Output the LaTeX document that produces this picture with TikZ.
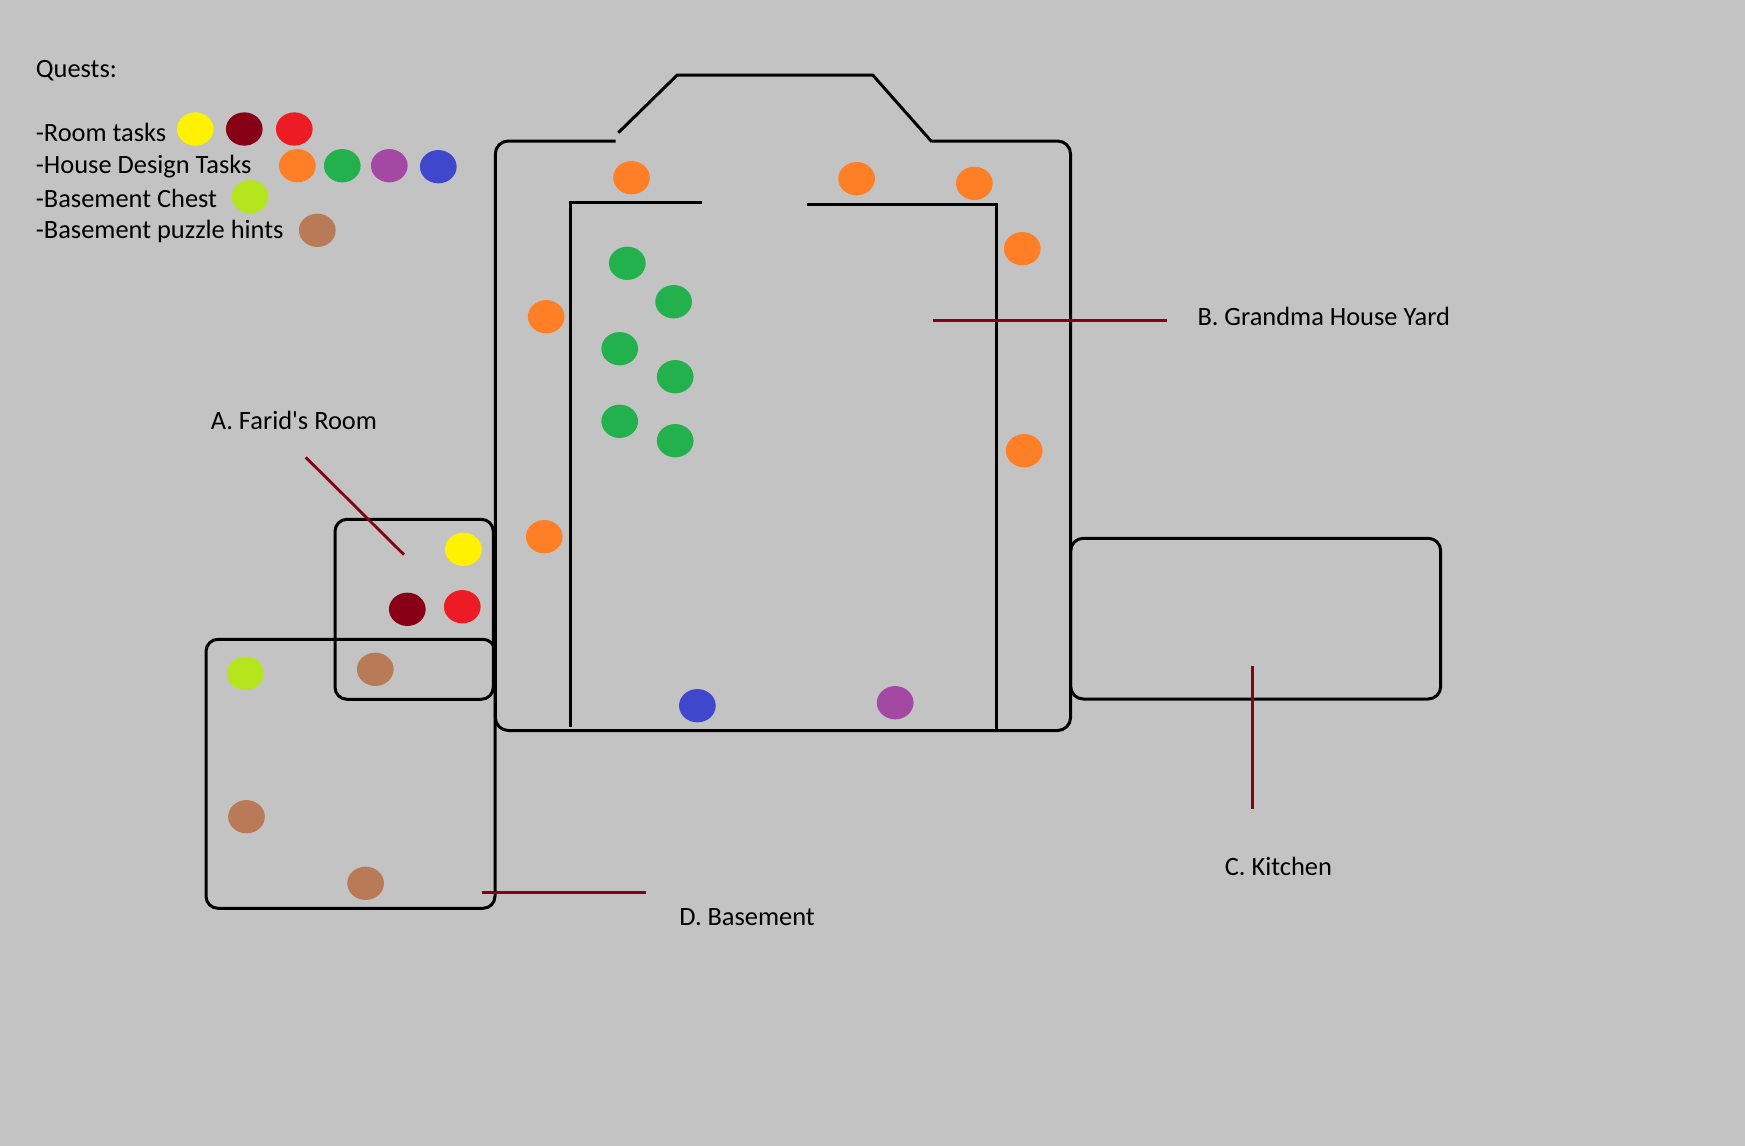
\documentclass[tikz,border=0pt]{standalone}
\usepackage{fontspec}
\defaultfontfeatures{}
\setmainfont{Carlito}[Ligatures=TeXOff]
\usetikzlibrary{shapes.geometric}
\definecolor{bg}{HTML}{C3C3C3}
\definecolor{cyellow}{HTML}{FFF200}
\definecolor{cdarkred}{HTML}{880015}
\definecolor{cred}{HTML}{ED1C24}
\definecolor{corange}{HTML}{FF7F27}
\definecolor{cgreen}{HTML}{22B14C}
\definecolor{cpurple}{HTML}{A349A4}
\definecolor{cblue}{HTML}{3F48CC}
\definecolor{clime}{HTML}{B5E61D}
\definecolor{cbrown}{HTML}{B97A57}
\begin{document}
\begin{tikzpicture}[x=1pt,y=-1pt,
  dot/.style={ellipse,draw=none,inner sep=0pt,minimum width=36.7pt,minimum height=33.3pt},
  wall/.style={draw=black,line width=3pt},
  room/.style={draw=black,line width=3pt,rounded corners=13pt},
  leader/.style={draw=cdarkred,line width=2.8pt},
  lbl/.style={anchor=base west,inner sep=0pt,font=\fontsize{26.4pt}{32pt}\selectfont,text=black}]
\fill[bg] (0,0) rectangle (1745,1146);
\useasboundingbox (0,0) rectangle (1745,1146);

% legend
\node[lbl] (quests) at (35.7,77.3) {Quests:};
\node[lbl] (lroom) at (35.7,141.7) {-Room tasks};
\node[lbl] (lhouse) at (35.7,173.3) {-House Design Tasks};
\node[lbl] (lchest) at (35.7,207.3) {-Basement Chest};
\node[lbl] (lhints) at (35.7,238.3) {-Basement puzzle hints};
\node[dot,fill=cyellow] (ly) at (195.3,129) {};
\node[dot,fill=cdarkred] (ldr) at (244.3,129) {};
\node[dot,fill=cred] (lr) at (294.3,129) {};
\node[dot,fill=corange] (lo) at (297.3,165.7) {};
\node[dot,fill=cgreen] (lg) at (342.3,165.7) {};
\node[dot,fill=cpurple] (lp) at (389.3,165.7) {};
\node[dot,fill=cblue] (lb) at (438.3,166.7) {};
\node[dot,fill=clime] (ll) at (250,196.7) {};
\node[dot,fill=cbrown] (lbr) at (317.3,230.3) {};

% house outer
\draw[room] (615.7,141) -- (495.3,141) -- (495.3,730.5) -- (1070.6,730.5) -- (1070.6,141) -- (931.7,141);
% roof
\draw[wall,line join=miter] (618.3,132.7) -- (677.3,75) -- (872.7,75) -- (931.7,141.7);
% inner walls
\draw[wall] (570.3,727) -- (570.3,202.7) -- (702,202.7);
\draw[wall] (807.2,204.3) -- (996.6,204.3) -- (996.6,730);

% kitchen
\draw[room,rounded corners=12.5pt] (1070.7,538.3) rectangle (1440.7,699);
% Farid's room
\draw[room,rounded corners=12pt] (335,519.3) rectangle (493.3,699.3);
% basement
\draw[room,rounded corners=12pt] (206,639.3) rectangle (495,908.3);

% house dots
\node[dot,fill=corange] (o1) at (631.5,177.7) {};
\node[dot,fill=corange] (o2) at (856.6,178.7) {};
\node[dot,fill=corange] (o3) at (974.4,183.3) {};
\node[dot,fill=corange] (o4) at (1022.3,248.7) {};
\node[dot,fill=corange] (o5) at (546.2,316.7) {};
\node[dot,fill=corange] (o6) at (1024.2,450.7) {};
\node[dot,fill=corange] (o7) at (544.3,536.7) {};
\node[dot,fill=cgreen] (g1) at (627.3,263.3) {};
\node[dot,fill=cgreen] (g2) at (673.6,301.7) {};
\node[dot,fill=cgreen] (g3) at (619.7,348.7) {};
\node[dot,fill=cgreen] (g4) at (675.2,376.7) {};
\node[dot,fill=cgreen] (g5) at (619.7,421.3) {};
\node[dot,fill=cgreen] (g6) at (675.2,440.7) {};
\node[dot,fill=cblue] (b1) at (697.4,705.7) {};
\node[dot,fill=cpurple] (p1) at (895.2,702.7) {};

% room dots
\node[dot,fill=cyellow] (ry) at (463.3,549.3) {};
\node[dot,fill=cdarkred] (rdr) at (407.3,609.3) {};
\node[dot,fill=cred] (rr) at (462.3,606.7) {};
\node[dot,fill=cbrown] (rbr) at (375.3,669.3) {};
% basement dots
\node[dot,fill=clime] (bl) at (245.3,673.3) {};
\node[dot,fill=cbrown] (bbr1) at (246.5,816.7) {};
\node[dot,fill=cbrown] (bbr2) at (365.6,883.3) {};

% labels and leaders
\node[lbl] (labA) at (210.7,429) {A. Farid's Room};
\node[lbl] (labB) at (1197.3,325.7) {B. Grandma House Yard};
\node[lbl] (labC) at (1224.7,875.3) {C. Kitchen};
\node[lbl] (labD) at (679.2,925) {D. Basement};
\coordinate (a1) at (305.7,457.3);
\coordinate (a2) at (404,554.7);
\coordinate (b1s) at (933.1,320.3);
\coordinate (b2s) at (1166.7,320.3);
\coordinate (c1) at (1252.7,665.8);
\coordinate (c2) at (1252.7,808.6);
\coordinate (d1) at (481.8,892.3);
\coordinate (d2) at (646.3,892.3);
\draw[leader] (a1) -- (a2);
\draw[leader] (b1s) -- (b2s);
\draw[leader] (c1) -- (c2);
\draw[leader] (d1) -- (d2);
\end{tikzpicture}
\end{document}
